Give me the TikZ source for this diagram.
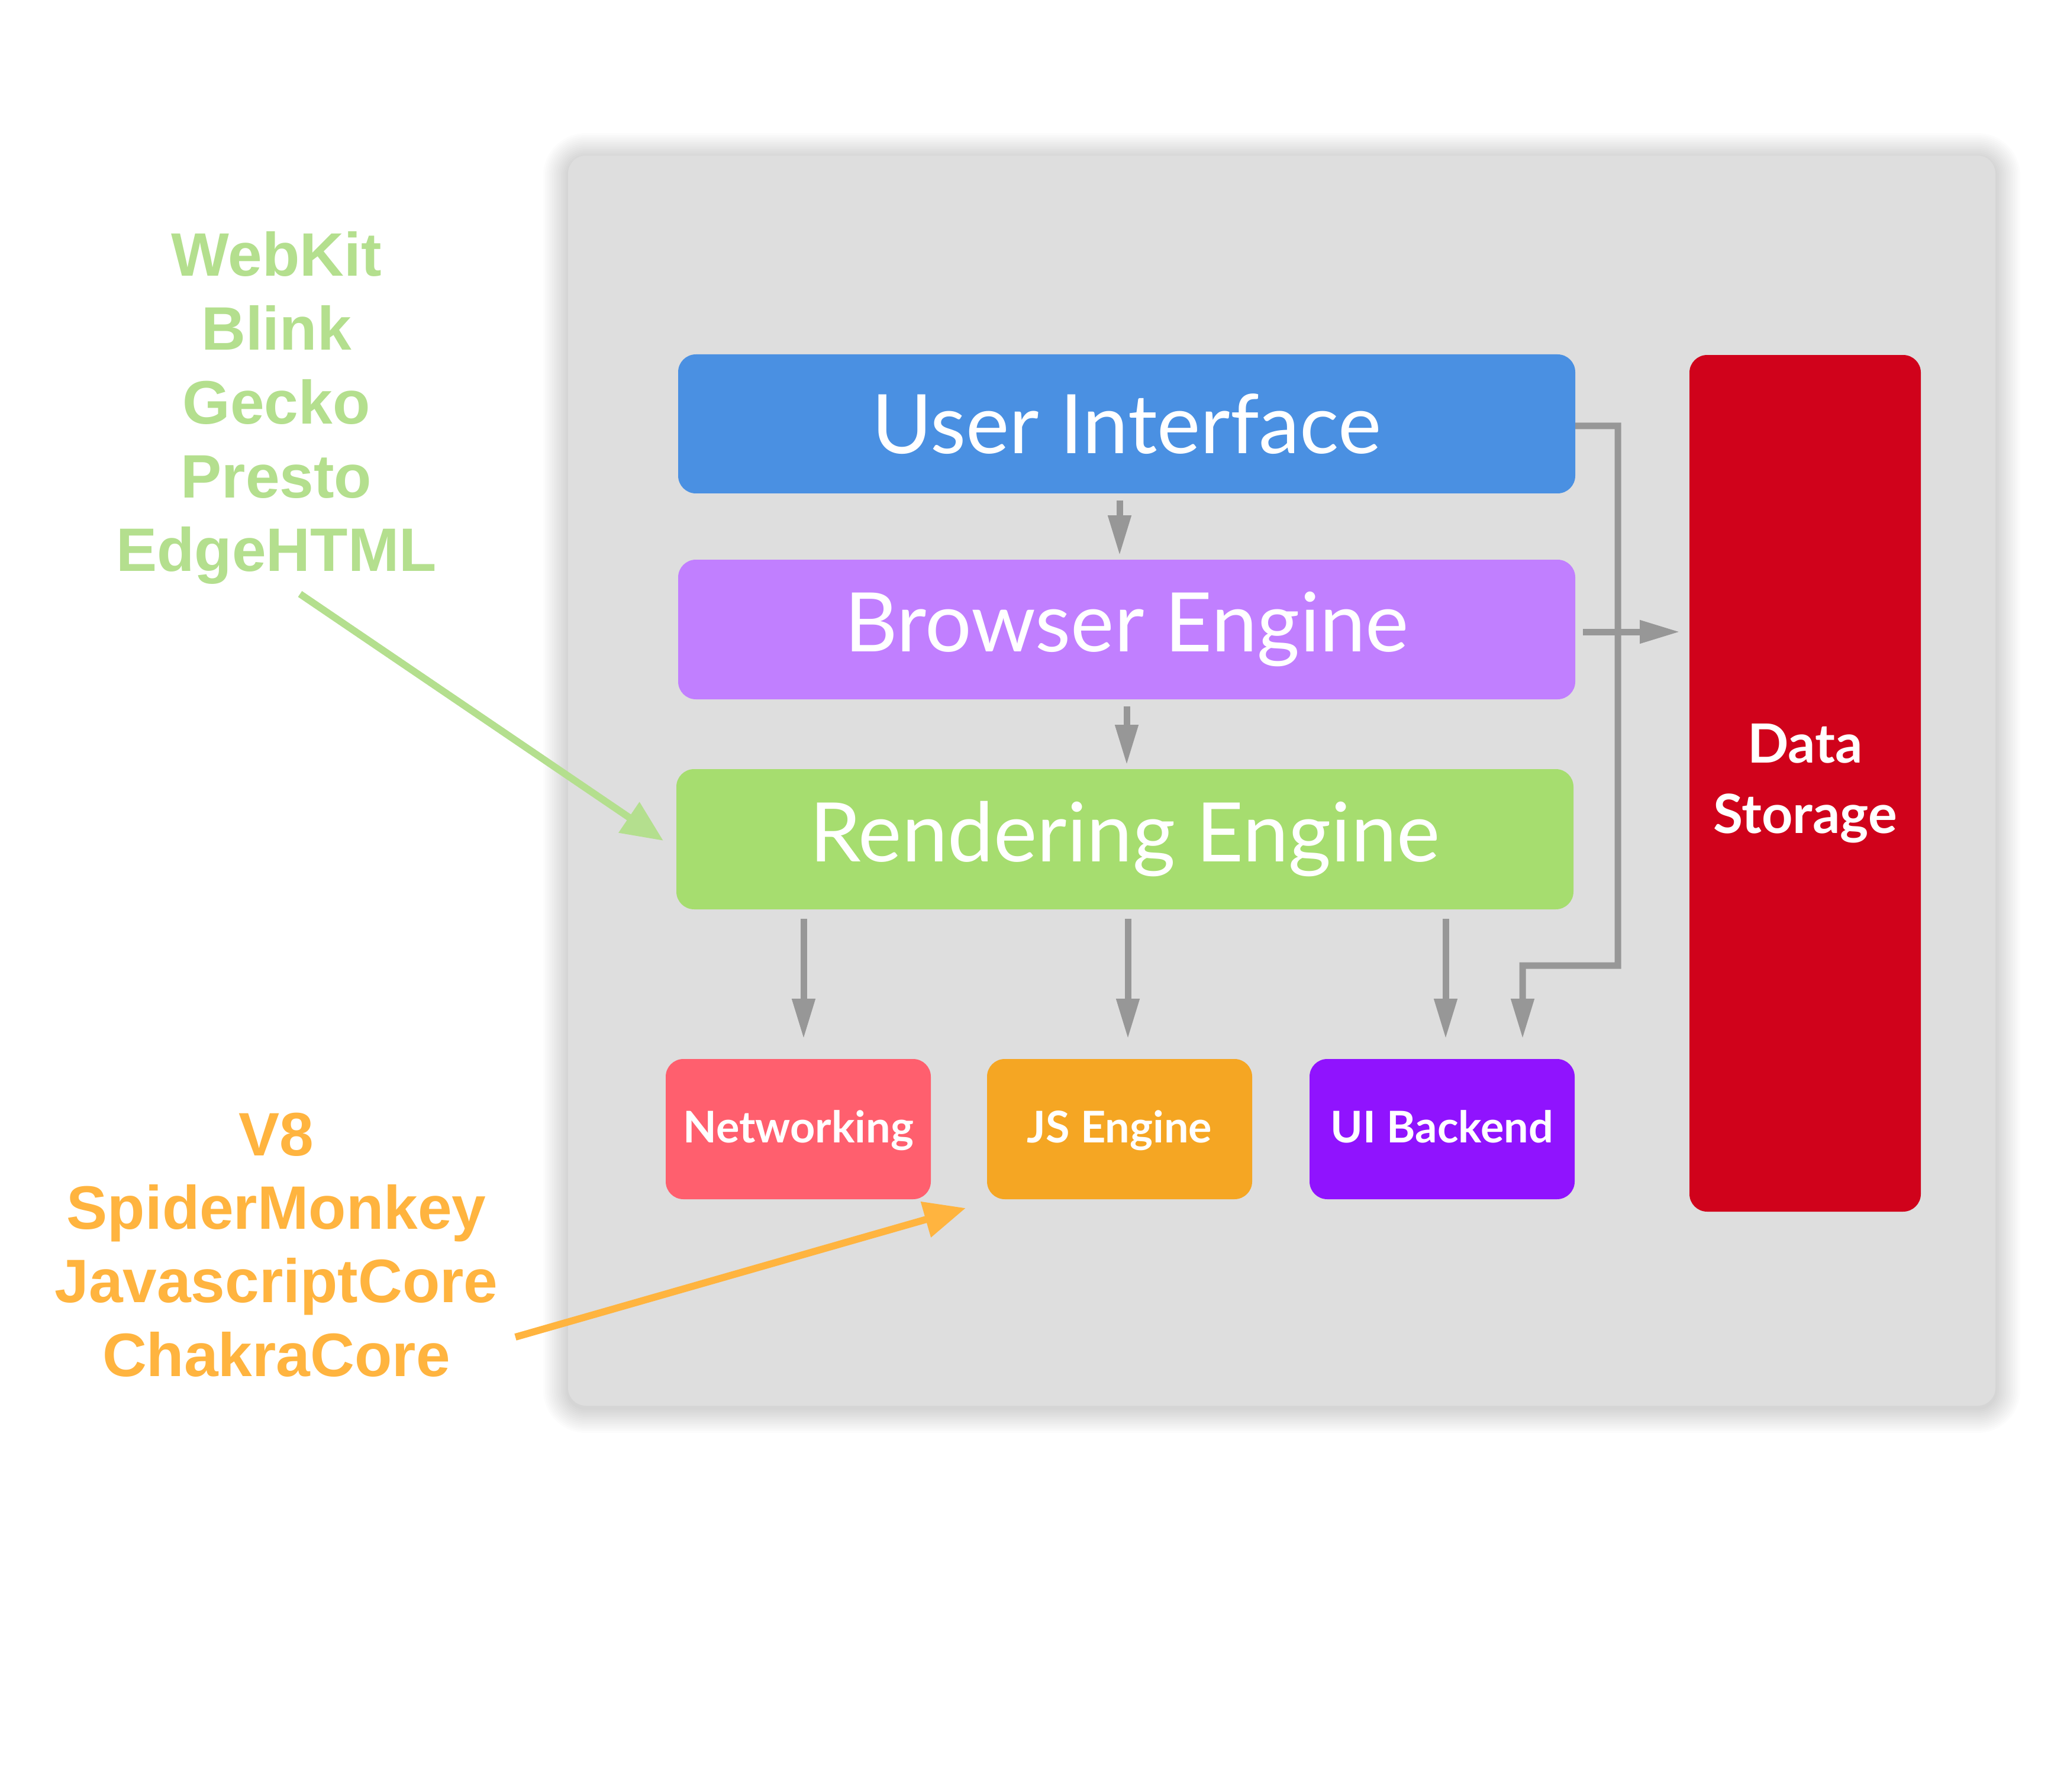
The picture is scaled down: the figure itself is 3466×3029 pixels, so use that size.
\documentclass[tikz,border=0pt]{standalone}
\usepackage{fontspec}
\setmainfont{Lato}
\newfontfamily\legendfont{Liberation Sans}
\usetikzlibrary{arrows.meta,calc}
\definecolor{panelgray}{HTML}{DEDEDE}
\definecolor{arrowgray}{HTML}{979797}
\definecolor{uiblue}{HTML}{4A90E2}
\definecolor{bepurple}{HTML}{C17FFF}
\definecolor{regreen}{HTML}{A6DD6F}
\definecolor{nwred}{HTML}{FF5F6E}
\definecolor{jsorange}{HTML}{F5A623}
\definecolor{uibpurple}{HTML}{9013FE}
\definecolor{dsred}{HTML}{D0021B}
\definecolor{leggreen}{HTML}{B4DF8E}
\definecolor{legorange}{HTML}{FFB43F}
\begin{document}
\begin{tikzpicture}[x=0.1mm,y=-0.1mm,
  box/.style={rounded corners=8.5pt, inner sep=0pt, outer sep=0pt, text=white, align=center},
  bigbox/.style={box, minimum width=151.6mm, minimum height=23.5mm, font=\fontsize{39.5}{48}\selectfont},
  smallbox/.style={box, minimum width=44.8mm, minimum height=23.7mm, text height=15pt, text depth=2pt, font=\bfseries\fontsize{21}{25}\selectfont},
  arr/.style={draw=arrowgray, line width=3.13pt, -{Triangle[length=19.3pt,width=10.5pt]}},
  legend/.style={anchor=base, inner sep=0pt, font=\legendfont\bfseries\fontsize{29.5}{35}\selectfont},
  garr/.style={draw=leggreen, line width=3.4pt, -{Triangle[length=20pt,width=17pt]}},
  oarr/.style={draw=legorange, line width=3.4pt, -{Triangle[length=20pt,width=17pt]}}
]
\useasboundingbox (0,0) rectangle (3466,3029);
\fill[white] (0,0) rectangle (3466,3029);

% panel shadow (soft, layered)
\foreach \k in {14,13,...,1}{
  \pgfmathsetmacro{\e}{3*\k}
  \pgfmathsetmacro{\r}{8.5+0.85*\k}
  \fill[black, opacity=0.012, rounded corners=\r pt] (960-\e,263-\e+4) rectangle (3372+\e,2376+\e+4);
}
% panel
\node[rounded corners=8.5pt, fill=panelgray, minimum width=241.2mm, minimum height=211.3mm, inner sep=0pt] (panel) at (2166,1319.5) {};

% boxes
\node[bigbox, fill=uiblue] (ui) at (1904,716.5) {User Interface};
\node[bigbox, fill=bepurple, minimum height=23.6mm] (be) at (1904,1064) {Browser Engine};
\node[bigbox, fill=regreen, minimum width=151.6mm, minimum height=23.7mm] (re) at (1901,1418.5) {Rendering Engine};
\node[smallbox, fill=nwred] (nw) at (1349,1908.5) {Networking};
\node[smallbox, fill=jsorange] (js) at (1892,1908.5) {JS Engine};
\node[smallbox, fill=uibpurple] (uib) at (2437,1908.5) {UI Backend};
\node[box, fill=dsred, minimum width=39.1mm, minimum height=144.8mm, font=\bfseries\fontsize{26}{34}\selectfont] (ds) at (3050.5,1324) {Data\\Storage};

% connectors
\draw[arr] ($(ui.south)+(-12,12)$) -- ($(be.north)+(-12,-7)$);
\draw[arr] ($(be.south)+(0,12)$) -- ($(re.north)+(3,-7)$);
\draw[arr] ($(re.south -| nw.center)+(9,16)$) -- ($(nw.north)+(9,-34)$);
\draw[arr] ($(re.south -| js.center)+(14,16)$) -- ($(js.north)+(14,-34)$);
\draw[arr] ($(re.south -| uib.center)+(6,16)$) -- ($(uib.north)+(6,-34)$);
\draw[arr] ($(ui.east)+(0,3.5)$) -- ++(72,0) -- ++(0,912) -- ++(-161,0) -- ($(uib.north)+(136,-34)$);
\draw[arr] ($(be.east)+(13,4)$) -- ($(ds.west |- be.east)+(-16,4)$);

% legends
\node[legend, text=leggreen] (webkit) at (467,467) {WebKit};
\node[legend, text=leggreen] (blink) at (467,592) {Blink};
\node[legend, text=leggreen] (gecko) at (467,717) {Gecko};
\node[legend, text=leggreen] (presto) at (467,842) {Presto};
\node[legend, text=leggreen] (edge) at (467,966) {EdgeHTML};
\coordinate (gstart) at (507,1004);
\draw[garr] (gstart) -- ($(re.west)+(-22,2.5)$);

\node[legend, text=legorange] (v8) at (467,1953) {V8};
\node[legend, text=legorange] (spider) at (467,2077) {SpiderMonkey};
\node[legend, text=legorange] (jscore) at (467,2201) {JavascriptCore};
\node[legend, text=legorange] (chakra) at (467,2326) {ChakraCore};
\coordinate (ostart) at (871,2260);
\draw[oarr] (ostart) -- ($(js.south west)+(-36,15)$);
\end{tikzpicture}
\end{document}
